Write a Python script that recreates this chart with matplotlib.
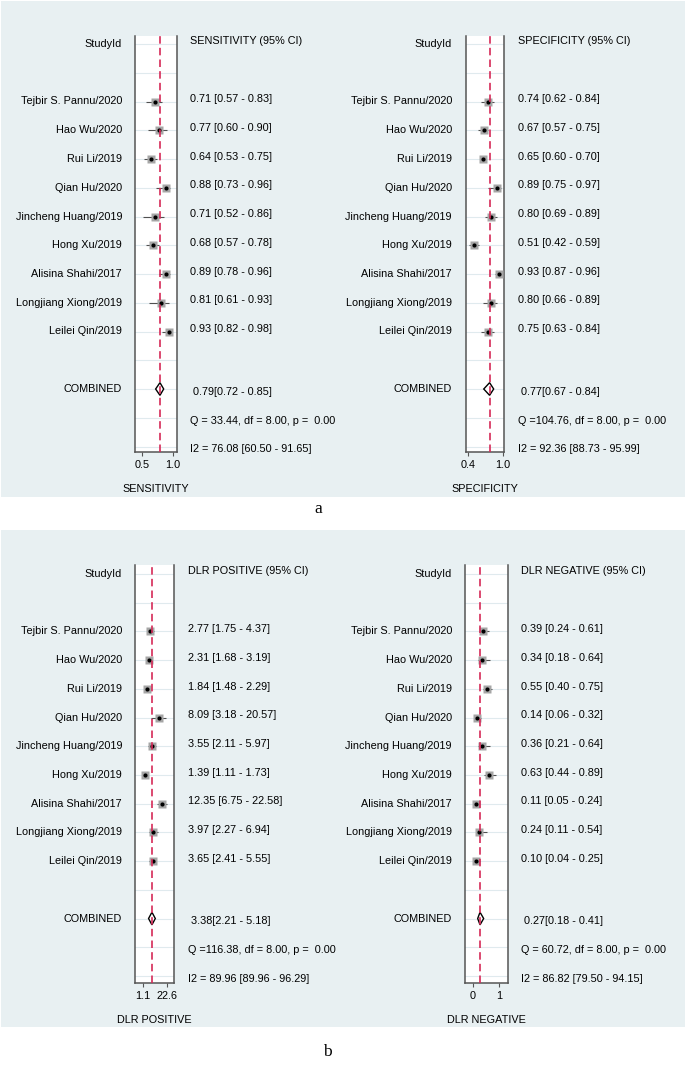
import matplotlib
matplotlib.use("Agg")
import matplotlib.pyplot as plt
import matplotlib.transforms as mtransforms
from matplotlib.patches import Rectangle, Polygon

W, H = 685, 1069

studies = [
    "Tejbir S. Pannu/2020", "Hao Wu/2020", "Rui Li/2019", "Qian Hu/2020",
    "Jincheng Huang/2019", "Hong Xu/2019", "Alisina Shahi/2017",
    "Longjiang Xiong/2019", "Leilei Qin/2019",
]

sens = [0.71, 0.77, 0.64, 0.88, 0.71, 0.68, 0.89, 0.81, 0.93]
sens_lo = [0.57, 0.60, 0.53, 0.73, 0.52, 0.57, 0.78, 0.61, 0.82]
sens_hi = [0.83, 0.90, 0.75, 0.96, 0.86, 0.78, 0.96, 0.93, 0.98]
sens_pool = [0.79, 0.72, 0.85]

spec = [0.74, 0.67, 0.65, 0.89, 0.80, 0.51, 0.93, 0.80, 0.75]
spec_lo = [0.62, 0.57, 0.60, 0.75, 0.69, 0.42, 0.87, 0.66, 0.63]
spec_hi = [0.84, 0.75, 0.70, 0.97, 0.89, 0.59, 0.96, 0.89, 0.84]
spec_pool = [0.77, 0.67, 0.84]

dlrp = [2.77, 2.31, 1.84, 8.09, 3.55, 1.39, 12.35, 3.97, 3.65]
dlrp_lo = [1.75, 1.68, 1.48, 3.18, 2.11, 1.11, 6.75, 2.27, 2.41]
dlrp_hi = [4.37, 3.19, 2.29, 20.57, 5.97, 1.73, 22.58, 6.94, 5.55]
dlrp_pool = [3.38, 2.21, 5.18]

dlrn = [0.39, 0.34, 0.55, 0.14, 0.36, 0.63, 0.11, 0.24, 0.10]
dlrn_lo = [0.24, 0.18, 0.40, 0.06, 0.21, 0.44, 0.05, 0.11, 0.04]
dlrn_hi = [0.61, 0.64, 0.75, 0.32, 0.64, 0.89, 0.24, 0.54, 0.25]
dlrn_pool = [0.27, 0.18, 0.41]

heterogeneity = {
    "SENSITIVITY": ("Q = 33.44, df = 8.00, p =  0.00", "I2 = 76.08 [60.50 - 91.65]"),
    "SPECIFICITY": ("Q =104.76, df = 8.00, p =  0.00", "I2 = 92.36 [88.73 - 95.99]"),
    "DLR POSITIVE": ("Q =116.38, df = 8.00, p =  0.00", "I2 = 89.96 [89.96 - 96.29]"),
    "DLR NEGATIVE": ("Q = 60.72, df = 8.00, p =  0.00", "I2 = 86.82 [79.50 - 94.15]"),
}

BG = "#e8f0f2"
RED = "#d62a58"
FONT = "Liberation Sans"
FS = 7.8

plt.rcParams["font.family"] = [FONT, "DejaVu Sans"]

fig = plt.figure(figsize=(W / 100, H / 100), dpi=100)
fig.patch.set_facecolor("white")

for top, bottom in [(1, 497), (530, 1027)]:
    fig.patches.append(Rectangle((1 / W, 1 - bottom / H), (W - 1) / W, (bottom - top) / H,
                                 transform=fig.transFigure, facecolor=BG, edgecolor="none", zorder=-1))


def forest(name, est, lo, hi, pool, box, header_y, row_h, label_x, value_x, xlim, ticks, ticklabels, log=False):
    x0, x1, y0, y1 = box
    ax = fig.add_axes([x0 / W, 1 - y1 / H, (x1 - x0) / W, (y1 - y0) / H])
    ax.set_xlim(*xlim)
    if log:
        ax.set_xscale("log")
    ax.set_ylim((y1 - header_y) / row_h, (y0 - header_y) / row_h)
    ax.set_facecolor("white")
    for side in ["left", "right", "bottom"]:
        ax.spines[side].set_color("#555555")
        ax.spines[side].set_linewidth(1.1)
    ax.spines["top"].set_visible(False)
    ax.set_yticks([])
    ax.set_xticks(ticks)
    ax.set_xticklabels(ticklabels, fontsize=FS)
    ax.minorticks_off()
    ax.tick_params(axis="x", direction="out", length=3, width=0.8, color="#555555", pad=3)

    for r in range(15):
        ax.axhline(r, color="#e0eaee", lw=0.8, zorder=1)

    rows = list(range(2, 2 + len(est)))
    ax.hlines(rows, lo, hi, color="#505050", lw=0.8, zorder=2)
    ax.plot(est, rows, "s", ms=5.4, color="#a6a6a6", mec="none", zorder=3)
    ax.plot(est, rows, "o", ms=3.0, color="black", mec="none", zorder=4)

    pr = 12
    ax.add_patch(Polygon([(pool[1], pr), (pool[0], pr - 0.22), (pool[2], pr), (pool[0], pr + 0.22)],
                         closed=True, facecolor="white", edgecolor="black", lw=1.0, zorder=5))
    ax.axvline(pool[0], color=RED, lw=1.2, ls=(0, (4.5, 2.5)), zorder=6)

    tr = mtransforms.blended_transform_factory(fig.transFigure, ax.transData)
    ax.text(label_x / W, 0, "StudyId", transform=tr, ha="right", va="center", fontsize=FS)
    ax.text(value_x / W, -0.1, f"{name} (95% CI)", transform=tr, ha="left", va="center", fontsize=FS)
    for r, s, e, l, h in zip(rows, studies, est, lo, hi):
        ax.text(label_x / W, r, s, transform=tr, ha="right", va="center", fontsize=FS)
        ax.text(value_x / W, r - 0.08, f"{e:.2f} [{l:.2f} - {h:.2f}]", transform=tr,
                ha="left", va="center", fontsize=FS)
    ax.text(label_x / W, pr, "COMBINED", transform=tr, ha="right", va="center", fontsize=FS)
    ax.text((value_x + 3) / W, pr + 0.1, f"{pool[0]:.2f}[{pool[1]:.2f} - {pool[2]:.2f}]", transform=tr,
            ha="left", va="center", fontsize=FS)
    q_text, i2_text = heterogeneity[name]
    ax.text(value_x / W, 13.1, q_text, transform=tr, ha="left", va="center", fontsize=FS)
    ax.text(value_x / W, 14.1, i2_text, transform=tr, ha="left", va="center", fontsize=FS)

    fig.text((x0 + x1) / 2 / W, 1 - (y1 + 37) / H, name, ha="center", va="center", fontsize=FS)
    return ax


forest("SENSITIVITY", sens, sens_lo, sens_hi, sens_pool, (135, 177, 36, 452), 44, 28.75,
       122, 190, (0.387, 1.065), [0.5, 1.0], ["0.5", "1.0"])
forest("SPECIFICITY", spec, spec_lo, spec_hi, spec_pool, (466, 504, 36, 452), 44, 28.75,
       452, 518, (0.366, 1.017), [0.4, 1.0], ["0.4", "1.0"])
forest("DLR POSITIVE", dlrp, dlrp_lo, dlrp_hi, dlrp_pool, (135, 174, 565, 983), 574, 28.71,
       122, 188, (0.40, 54.6), [1.1, 22.6], ["1.1", "22.6"], log=True)
forest("DLR NEGATIVE", dlrn, dlrn_lo, dlrn_hi, dlrn_pool, (465, 508, 565, 983), 574, 28.71,
       452, 521, (-0.31, 1.35), [0, 1], ["0", "1"])

fig.text(318 / W, 1 - 509 / H, "a", ha="center", va="center", fontsize=12.5, family="Liberation Serif")
fig.text(327 / W, 1 - 1052 / H, "b", ha="center", va="center", fontsize=12.5, family="Liberation Serif")

fig.savefig("out.png", dpi=100, facecolor="white")
